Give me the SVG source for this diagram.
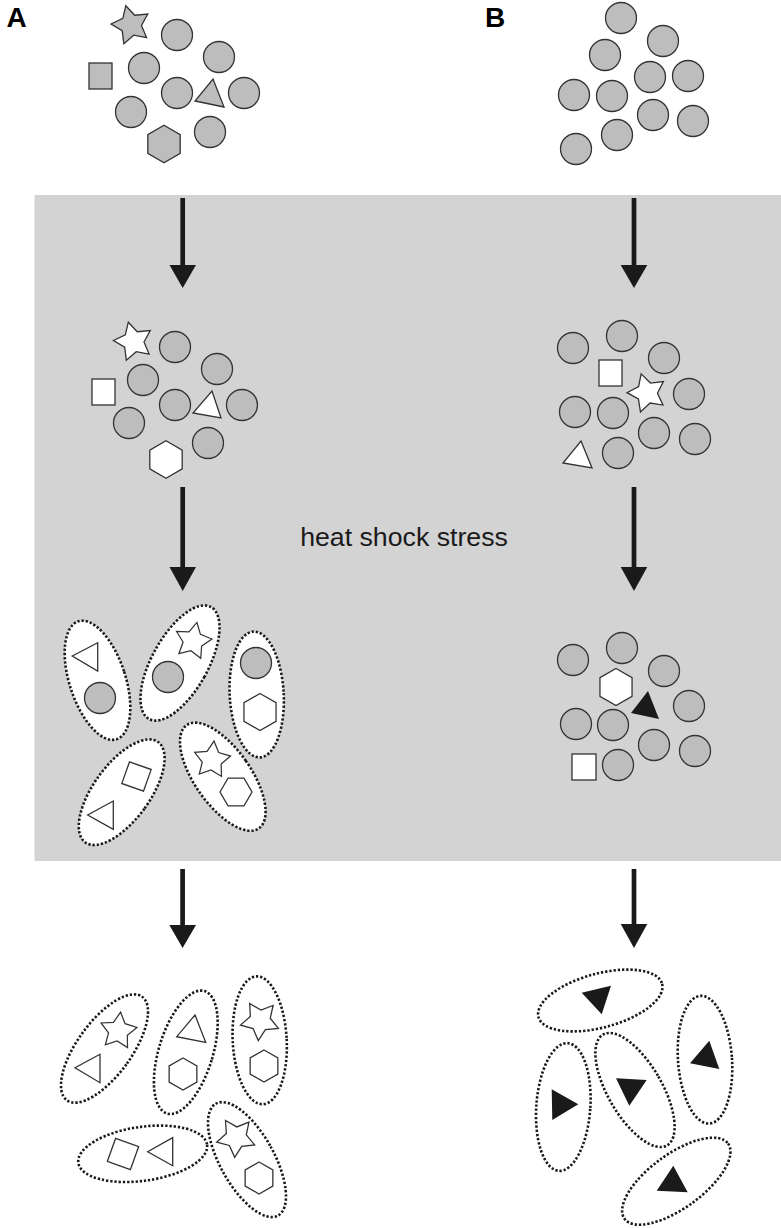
<svg xmlns="http://www.w3.org/2000/svg" xmlns:xlink="http://www.w3.org/1999/xlink" width="781" height="1228" viewBox="0 0 781 1228">
<style>
.g{fill:#bdbdbd;stroke:#333;stroke-width:1.3}
.w{fill:#fff;stroke:#333;stroke-width:1.3}
.k{fill:#1a1a1a;stroke:none}
.d{fill:#fff;stroke:#1a1a1a;stroke-width:2.6;stroke-dasharray:2.3 1.9}
.lbl{font-family:"Liberation Sans",Arial,sans-serif;font-weight:bold;font-size:28px;fill:#000}
.txt{font-family:"Liberation Sans",Arial,sans-serif;font-size:26.7px;fill:#1a1a1a}
.sh{stroke:#1a1a1a;stroke-width:4.7}
</style>
<defs>
<polygon id="star" points="0,-20 6.17,-8.49 19.02,-6.18 9.99,3.24 11.76,16.18 0,10.5 -11.76,16.18 -9.99,3.24 -19.02,-6.18 -6.17,-8.49"/>
<polygon id="hexL" points="0,-18.7 16.2,-9.35 16.2,9.35 0,18.7 -16.2,9.35 -16.2,-9.35"/>
<polygon id="hexS" points="0,-16 13.86,-8 13.86,8 0,16 -13.86,8 -13.86,-8"/>
<polygon id="hexF" points="-16,0 -8,-13.86 8,-13.86 16,0 8,13.86 -8,13.86"/>
</defs>

<rect x="34.5" y="195" width="746.5" height="666" fill="#d3d3d3"/>

<text class="lbl" x="6.5" y="26.7">A</text>
<text class="lbl" x="485" y="26.7">B</text>
<text class="txt" x="404" y="545.7" text-anchor="middle">heat shock stress</text>

<g id="connectors">
<line class="sh" x1="182.7" y1="198" x2="182.7" y2="267"/>
<polygon class="k" points="169.5,265 196,265 182.7,288"/>
<line class="sh" x1="634" y1="198" x2="634" y2="267"/>
<polygon class="k" points="620.7,265 647.3,265 634,288"/>
<line class="sh" x1="182.7" y1="487" x2="182.7" y2="569"/>
<polygon class="k" points="169.5,567 196,567 182.7,591"/>
<line class="sh" x1="634" y1="487" x2="634" y2="569"/>
<polygon class="k" points="620.7,567 647.3,567 634,591"/>
<line class="sh" x1="182.6" y1="869" x2="182.6" y2="927"/>
<polygon class="k" points="169.3,925 196,925 182.6,948"/>
<line class="sh" x1="634" y1="869" x2="634" y2="927"/>
<polygon class="k" points="620.7,924 647.3,924 634,948"/>
</g>

<g id="clusterA1">
<use href="#star" class="g" transform="translate(131,25) rotate(-15)"/>
<rect class="g" x="89" y="63" width="23" height="26"/>
<circle class="g" cx="177" cy="35" r="15.5"/>
<circle class="g" cx="219" cy="57" r="15.5"/>
<circle class="g" cx="144" cy="68" r="15.5"/>
<circle class="g" cx="177" cy="93" r="15.5"/>
<circle class="g" cx="244" cy="93" r="15.5"/>
<circle class="g" cx="131" cy="112" r="15.5"/>
<circle class="g" cx="210" cy="132" r="15.5"/>
<polygon class="g" points="213,79 224,107 195,101"/>
<use href="#hexL" class="g" transform="translate(164,144)"/>
</g>

<g id="clusterB1">
<circle class="g" cx="621" cy="18" r="15.5"/>
<circle class="g" cx="663" cy="41" r="15.5"/>
<circle class="g" cx="605" cy="55" r="15.5"/>
<circle class="g" cx="650" cy="77" r="15.5"/>
<circle class="g" cx="688" cy="76" r="15.5"/>
<circle class="g" cx="574" cy="95" r="15.5"/>
<circle class="g" cx="612" cy="96" r="15.5"/>
<circle class="g" cx="653" cy="115" r="15.5"/>
<circle class="g" cx="693" cy="121" r="15.5"/>
<circle class="g" cx="617" cy="135" r="15.5"/>
<circle class="g" cx="576" cy="149" r="15.5"/>
</g>

<g id="clusterA2">
<use href="#star" class="w" transform="translate(133.5,341.5) rotate(-15)"/>
<rect class="w" x="92" y="379" width="23" height="26"/>
<circle class="g" cx="175" cy="347" r="15.5"/>
<circle class="g" cx="217" cy="369" r="15.5"/>
<circle class="g" cx="143" cy="380" r="15.5"/>
<circle class="g" cx="175" cy="405" r="15.5"/>
<circle class="g" cx="242" cy="405" r="15.5"/>
<circle class="g" cx="129" cy="423" r="15.5"/>
<circle class="g" cx="208" cy="443" r="15.5"/>
<polygon class="w" points="212,391 221,418 193,413"/>
<use href="#hexL" class="w" transform="translate(166,459.5)"/>
</g>

<g id="clusterB2">
<circle class="g" cx="573" cy="348" r="15.5"/>
<circle class="g" cx="622" cy="336" r="15.5"/>
<circle class="g" cx="664" cy="358" r="15.5"/>
<circle class="g" cx="689" cy="394" r="15.5"/>
<circle class="g" cx="575" cy="412" r="15.5"/>
<circle class="g" cx="613" cy="413" r="15.5"/>
<circle class="g" cx="654" cy="433" r="15.5"/>
<circle class="g" cx="695" cy="439" r="15.5"/>
<circle class="g" cx="618" cy="453" r="15.5"/>
<rect class="w" x="599" y="360" width="23" height="26"/>
<use href="#star" class="w" transform="translate(647,393) rotate(-17)"/>
<polygon class="w" points="581,441 592,468 563,463"/>
</g>

<g id="clusterB3">
<circle class="g" cx="573" cy="660" r="15.5"/>
<circle class="g" cx="622" cy="648" r="15.5"/>
<circle class="g" cx="664" cy="671" r="15.5"/>
<circle class="g" cx="689" cy="706" r="15.5"/>
<circle class="g" cx="576" cy="724" r="15.5"/>
<circle class="g" cx="613" cy="725" r="15.5"/>
<circle class="g" cx="654" cy="745" r="15.5"/>
<circle class="g" cx="695" cy="751" r="15.5"/>
<circle class="g" cx="618" cy="765" r="15.5"/>
<use href="#hexL" class="w" transform="translate(616,687) scale(0.99)"/>
<polygon class="k" points="648,691 659,719 631,713"/>
<rect class="w" x="572" y="754" width="24" height="26"/>
</g>

<g id="complexA3-1">
<ellipse class="d" cx="0" cy="0" rx="28" ry="62" transform="translate(97.5,680.3) rotate(-18)"/>
<polygon class="w" points="97.7,642.7 97.7,671 72.3,656"/>
<circle class="g" cx="100" cy="698" r="15.5"/>
</g>
<g id="complexA3-2">
<ellipse class="d" cx="0" cy="0" rx="28" ry="64" transform="translate(180,663) rotate(29)"/>
<use href="#star" class="w" transform="translate(193,641) rotate(12) scale(0.95)"/>
<circle class="g" cx="168" cy="677" r="15.5"/>
</g>
<g id="complexA3-3">
<ellipse class="d" cx="0" cy="0" rx="27" ry="63" transform="translate(256.7,694.5) rotate(-3)"/>
<circle class="g" cx="256" cy="663" r="15.5"/>
<use href="#hexL" class="w" transform="translate(260,712) scale(0.99)"/>
</g>
<g id="complexA3-4">
<ellipse class="d" cx="0" cy="0" rx="28" ry="62" transform="translate(121.7,792.2) rotate(36)"/>
<rect class="w" x="-11.5" y="-11.5" width="23" height="23" transform="translate(136.5,776.5) rotate(19.5)"/>
<polygon class="w" points="113.3,801 113.3,829.3 87.7,815"/>
</g>
<g id="complexA3-5">
<ellipse class="d" cx="0" cy="0" rx="28" ry="63" transform="translate(222.8,776.7) rotate(-35)"/>
<use href="#star" class="w" transform="translate(212,760) rotate(6) scale(0.95)"/>
<use href="#hexF" class="w" transform="translate(236,792)"/>
</g>

<g id="complexA4-1">
<ellipse class="d" cx="0" cy="0" rx="27" ry="64" transform="translate(104.5,1048.5) rotate(36)"/>
<use href="#star" class="w" transform="translate(118.3,1031) rotate(7) scale(0.95)"/>
<polygon class="w" points="100,1054.3 100,1082.7 75,1067.7"/>
</g>
<g id="complexA4-2">
<ellipse class="d" cx="0" cy="0" rx="27" ry="64" transform="translate(185.8,1052.3) rotate(17)"/>
<polygon class="w" points="195,1015 205.7,1042.3 176.7,1036.7"/>
<use href="#hexS" class="w" transform="translate(183,1074)"/>
</g>
<g id="complexA4-3">
<ellipse class="d" cx="0" cy="0" rx="27" ry="64" transform="translate(259.7,1040.3) rotate(-3)"/>
<use href="#star" class="w" transform="translate(260,1020.6) rotate(-31)"/>
<use href="#hexS" class="w" transform="translate(264,1066)"/>
</g>
<g id="complexA4-4">
<ellipse class="d" cx="0" cy="0" rx="65" ry="27" transform="translate(142.7,1153.8) rotate(-8)"/>
<rect class="w" x="-12.25" y="-12.25" width="24.5" height="24.5" transform="translate(123,1154) rotate(19.7)"/>
<polygon class="w" points="172.7,1137.7 172.7,1165.7 147.7,1151.7"/>
</g>
<g id="complexA4-5">
<ellipse class="d" cx="0" cy="0" rx="27" ry="64" transform="translate(247,1159.6) rotate(-29)"/>
<use href="#star" class="w" transform="translate(236.1,1137.4) rotate(-32)"/>
<use href="#hexS" class="w" transform="translate(259,1178)"/>
</g>

<g id="complexB4-1">
<ellipse class="d" cx="0" cy="0" rx="64" ry="27" transform="translate(600.3,1000.5) rotate(-15)"/>
<polygon class="k" points="611,985.7 601.7,1014.3 581.7,992.7"/>
</g>
<g id="complexB4-2">
<ellipse class="d" cx="0" cy="0" rx="27" ry="64" transform="translate(563.3,1107) rotate(4)"/>
<polygon class="k" points="551.7,1089.3 578.3,1104.3 552.3,1120"/>
</g>
<g id="complexB4-3">
<ellipse class="d" cx="0" cy="0" rx="27" ry="64" transform="translate(635,1090) rotate(-30)"/>
<polygon class="k" points="616,1078.3 646.7,1080 629.3,1105.7"/>
</g>
<g id="complexB4-4">
<ellipse class="d" cx="0" cy="0" rx="27" ry="64" transform="translate(705,1059.7) rotate(-4)"/>
<polygon class="k" points="709.3,1040.7 719.3,1069 690,1063.3"/>
</g>
<g id="complexB4-5">
<ellipse class="d" cx="0" cy="0" rx="64" ry="27" transform="translate(676.3,1181.2) rotate(-36)"/>
<polygon class="k" points="673.3,1165.7 687.7,1192.3 656.7,1190.7"/>
</g>
</svg>
